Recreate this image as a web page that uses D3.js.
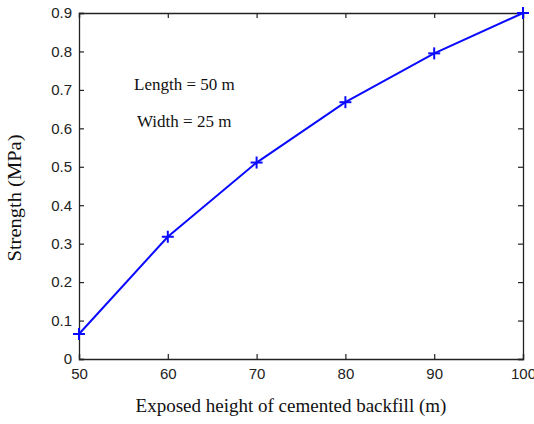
<!DOCTYPE html>
<html>
<head>
<meta charset="utf-8">
<script src="https://d3js.org/d3.v7.min.js"></script>
<style>
  body { margin: 0; background: #fff; }
  .tick text { font-family: "Liberation Sans", Arial, sans-serif; font-size: 15px; fill: #222; }
  .lbl { font-family: "Liberation Serif", "Times New Roman", serif; font-size: 19px; fill: #111; }
  .note { font-family: "Liberation Serif", "Times New Roman", serif; font-size: 17px; fill: #111; }
</style>
</head>
<body>
<div id="chart"></div>
<script>
// data
var heights = [50, 60, 70, 80, 90, 100];
var strength = [0.065, 0.318, 0.511, 0.668, 0.795, 0.9];
var xTicks = [50, 60, 70, 80, 90, 100];
var yTicks = [0, 0.1, 0.2, 0.3, 0.4, 0.5, 0.6, 0.7, 0.8, 0.9];

var margin = {top: 13, right: 11, bottom: 65, left: 79},
    width = 534 - margin.left - margin.right,
    height = 424 - margin.top - margin.bottom;

var svg = d3.select("#chart")
  .append("svg")
    .attr("width", 534)
    .attr("height", 424)
  .append("g")
    .attr("transform", "translate(" + margin.left + "," + margin.top + ")");

var x = d3.scaleLinear().domain([50, 100]).range([0, width]);
var y = d3.scaleLinear().domain([0, 0.9]).range([height, 0]);

// bottom + left axes with inward ticks
svg.append("g")
  .attr("transform", "translate(0," + height + ")")
  .call(d3.axisBottom(x).tickValues(xTicks).tickSize(-5).tickPadding(9).tickFormat(d3.format("d")));
svg.append("g")
  .call(d3.axisLeft(y).tickValues(yTicks).tickSize(-5).tickPadding(7).tickFormat(function(d) { return d === 0 ? "0" : d3.format(".1f")(d); }));

// top + right axes, ticks only
svg.append("g")
  .call(d3.axisTop(x).tickValues(xTicks).tickSize(-5).tickFormat(""));
svg.append("g")
  .attr("transform", "translate(" + width + ",0)")
  .call(d3.axisRight(y).tickValues(yTicks).tickSize(-5).tickFormat(""));

svg.selectAll(".domain").attr("stroke", "#222").attr("stroke-width", 1.3);
svg.selectAll(".tick line").attr("stroke", "#222").attr("stroke-width", 1.2);

var pts = heights.map(function(h, i) { return [h, strength[i]]; });

var line = d3.line()
  .x(function(d) { return x(d[0]); })
  .y(function(d) { return y(d[1]); });

svg.append("path")
  .datum(pts)
  .attr("d", line)
  .attr("fill", "none")
  .attr("stroke", "#0a0aff")
  .attr("stroke-width", 2);

// plus markers
var m = svg.selectAll(".mk").data(pts).enter().append("g")
  .attr("transform", function(d) { return "translate(" + x(d[0]) + "," + y(d[1]) + ")"; });
m.append("line").attr("x1", -6).attr("x2", 6).attr("stroke", "#0a0aff").attr("stroke-width", 2);
m.append("line").attr("y1", -6).attr("y2", 6).attr("stroke", "#0a0aff").attr("stroke-width", 2);

// annotations
svg.append("text").attr("class", "note").attr("x", 55).attr("y", 77).text("Length = 50 m");
svg.append("text").attr("class", "note").attr("x", 58).attr("y", 114).text("Width = 25 m");

// axis labels
svg.append("text")
  .attr("class", "lbl")
  .attr("text-anchor", "middle")
  .attr("x", 212)
  .attr("y", height + 53)
  .text("Exposed height of cemented backfill (m)");

svg.append("text")
  .attr("class", "lbl")
  .attr("text-anchor", "middle")
  .attr("textLength", 127)
  .attr("lengthAdjust", "spacingAndGlyphs")
  .attr("transform", "translate(-58,185) rotate(-90)")
  .text("Strength (MPa)");
</script>
</body>
</html>
